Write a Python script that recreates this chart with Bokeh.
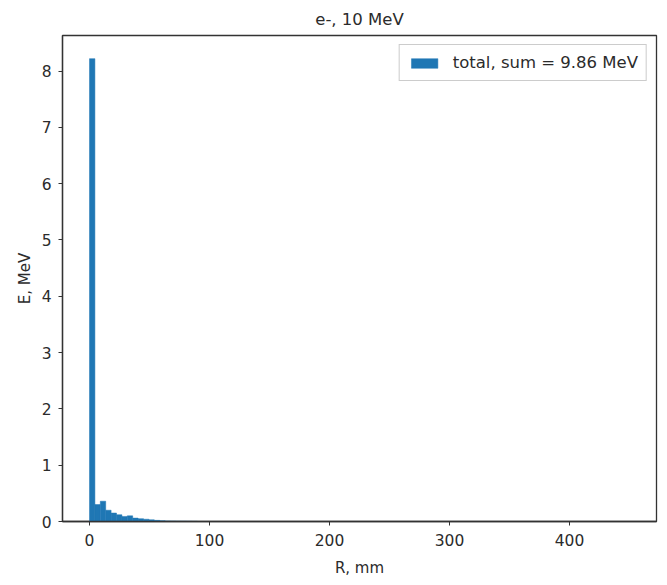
from bokeh.plotting import figure
from bokeh.models import ColumnDataSource, FixedTicker, Legend, LegendItem, Range1d
from bokeh.embed import file_html
from bokeh.resources import INLINE

title_text = "e-, 10 MeV"
x_label = "R, mm"
y_label = "E, MeV"
legend_label = "total, sum = 9.86 MeV"
r_min = 0.0
r_max = 450.0
n_bins = 100
energy = [8.22, 0.30, 0.36, 0.20, 0.15, 0.12, 0.09, 0.10, 0.06, 0.05,
          0.04, 0.03, 0.02, 0.015, 0.01, 0.008, 0.006, 0.005, 0.004, 0.003]
x_ticks = [0, 100, 200, 300, 400]
y_ticks = [0, 1, 2, 3, 4, 5, 6, 7, 8]

bw = (r_max - r_min) / n_bins
lefts = [r_min + i * bw for i in range(len(energy))]
rights = [l + bw for l in lefts]
src = ColumnDataSource(dict(left=lefts, right=rights, top=energy, bottom=[0] * len(energy)))

FONT = "DejaVu Sans"
TXT = "#2b2b2b"
xpad = 0.05 * (r_max - r_min)
ymax = 1.05 * max(energy)

p = figure(frame_width=594, frame_height=486, output_backend="svg", toolbar_location=None,
           x_range=Range1d(r_min - xpad, r_max + xpad), y_range=Range1d(0, ymax),
           min_border_left=62, min_border_right=3, min_border_top=0, min_border_bottom=10)
p.title.text = title_text
p.title.align = "center"
p.title.text_font = FONT
p.title.text_font_style = "normal"
p.title.text_font_size = "16.5px"
p.title.text_color = TXT
p.title.standoff = 14

r = p.quad(left="left", right="right", top="top", bottom="bottom", source=src,
           fill_color="#1f77b4", line_color="#1f77b4", line_width=0.5)

p.xgrid.visible = False
p.ygrid.visible = False
p.outline_line_color = "#333333"
p.outline_line_width = 1.3

for ax in (p.xaxis[0], p.yaxis[0]):
    ax.axis_line_color = "#333333"
    ax.axis_line_width = 1.3
    ax.major_tick_line_color = "#333333"
    ax.major_tick_out = 4
    ax.major_tick_in = 0
    ax.minor_tick_line_color = None
    ax.major_label_text_font = FONT
    ax.major_label_text_font_size = "15.5px"
    ax.major_label_text_color = TXT
    ax.axis_label_text_font = FONT
    ax.axis_label_text_font_size = "15px"
    ax.axis_label_text_font_style = "normal"
    ax.axis_label_text_color = TXT

p.xaxis.ticker = FixedTicker(ticks=x_ticks)
p.yaxis.ticker = FixedTicker(ticks=y_ticks)
p.xaxis.axis_label = x_label
p.yaxis.axis_label = y_label
p.xaxis.major_label_standoff = 8
p.xaxis.axis_label_standoff = 10
p.yaxis.major_label_standoff = 7
p.yaxis.major_label_orientation = "horizontal"

legend = Legend(items=[LegendItem(label=legend_label, renderers=[r])], location="top_right",
                label_text_font=FONT, label_text_font_size="16.5px", label_text_color=TXT,
                border_line_color="#cccccc", border_line_alpha=1, background_fill_alpha=1,
                glyph_width=33, glyph_height=12, margin=9, padding=8, spacing=0, label_standoff=12)
p.add_layout(legend)

open("out.html", "w").write(file_html(p, INLINE))
